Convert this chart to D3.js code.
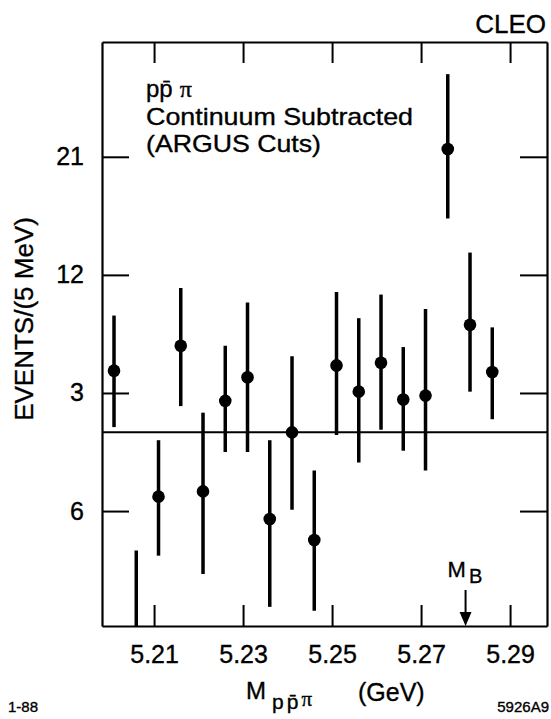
<!DOCTYPE html>
<html>
<head>
<meta charset="utf-8">
<script src="https://cdn.jsdelivr.net/npm/d3@7"></script>
<style>
  html, body { margin: 0; padding: 0; background: #fff; }
  svg text { font-family: "Liberation Sans", Arial, Helvetica, sans-serif; fill: #000;
             stroke: #000; stroke-width: 0.35px; }
</style>
</head>
<body>
<svg id="chart" width="551" height="719"></svg>
<script>
// Bin centres of the p p-bar pi invariant mass (GeV), 5 MeV bins
const massBins = [5.201, 5.206, 5.211, 5.216, 5.221, 5.226, 5.231, 5.236, 5.241,
                  5.246, 5.251, 5.256, 5.261, 5.266, 5.271, 5.276, 5.281, 5.286];
// Continuum-subtracted events per bin
const events   = [4.7, -15.5, -4.9, 6.6, -4.5, 2.4, 4.2, -6.6, 0.0,
                  -8.2, 5.1, 3.1, 5.3, 2.5, 2.8, 21.6, 8.2, 4.6];
// Upper and lower error-bar lengths
const errUp    = [4.2, 6.5, 4.3, 4.4, 6.0, 4.2, 5.7, 6.0, 5.8,
                  5.3, 5.6, 5.6, 5.2, 4.0, 6.6, 5.7, 5.5, 3.4];
const errDown  = [4.3, 6.5, 4.5, 4.6, 6.3, 3.9, 5.7, 6.7, 5.9,
                  5.4, 5.3, 5.4, 5.1, 3.9, 5.7, 5.3, 5.1, 3.6];

const xTicks = [5.21, 5.23, 5.25, 5.27, 5.29];
const yTicks = [-6, 3, 12, 21];
const yTickLabels = ["6", "3", "12", "21"];
const bMass = 5.280;

const svg = d3.select("#chart");
const frame = { left: 102, right: 547, top: 42, bottom: 626 };

const x = d3.scaleLinear().domain([5.1983, 5.2983]).range([frame.left, frame.right]);
const y = d3.scaleLinear().domain([-14.76, 29.75]).range([frame.bottom, frame.top]);

// clip for marks inside the frame
svg.append("defs").append("clipPath").attr("id", "plot")
  .append("rect").attr("x", frame.left).attr("y", frame.top)
  .attr("width", frame.right - frame.left).attr("height", frame.bottom - frame.top);

// axes (inward ticks on all four sides)
const axStroke = g => {
  g.selectAll("path.domain").attr("stroke", "#000").attr("stroke-width", 2.2);
  g.selectAll(".tick line").attr("stroke", "#000").attr("stroke-width", 2);
};
const tickText = g => g.selectAll("text").attr("font-size", 25)
  .style("font-family", "Liberation Sans, Arial, sans-serif");

svg.append("g").attr("transform", `translate(0,${frame.bottom})`)
  .call(d3.axisBottom(x).tickValues(xTicks).tickSizeInner(-21).tickSizeOuter(0)
        .tickPadding(19).tickFormat(d3.format(".2f")))
  .call(axStroke).call(tickText);

svg.append("g").attr("transform", `translate(0,${frame.top})`)
  .call(d3.axisTop(x).tickValues(xTicks).tickSizeInner(-21).tickSizeOuter(0).tickFormat(""))
  .call(axStroke);

svg.append("g").attr("transform", `translate(${frame.left},0)`)
  .call(d3.axisLeft(y).tickValues(yTicks).tickSizeInner(-27).tickSizeOuter(0)
        .tickPadding(18).tickFormat((d, i) => yTickLabels[i]))
  .call(axStroke).call(tickText);

svg.append("g").attr("transform", `translate(${frame.right},0)`)
  .call(d3.axisRight(y).tickValues(yTicks).tickSizeInner(-27).tickSizeOuter(0).tickFormat(""))
  .call(axStroke);

// zero baseline
svg.append("line")
  .attr("x1", frame.left).attr("x2", frame.right)
  .attr("y1", y(0)).attr("y2", y(0))
  .attr("stroke", "#000").attr("stroke-width", 2);

// data: error bars and points
const data = massBins.map((m, i) => ({ m, v: events[i], up: errUp[i], dn: errDown[i] }));
const marks = svg.append("g").attr("clip-path", "url(#plot)");

marks.selectAll("line.err").data(data).join("line")
  .attr("class", "err")
  .attr("x1", d => x(d.m)).attr("x2", d => x(d.m))
  .attr("y1", d => y(d.v + d.up)).attr("y2", d => y(d.v - d.dn))
  .attr("stroke", "#000").attr("stroke-width", 3.5);

marks.selectAll("circle").data(data).join("circle")
  .attr("cx", d => x(d.m)).attr("cy", d => y(d.v)).attr("r", 6.3)
  .attr("fill", "#000");

// M_B marker arrow
const ax = x(bMass);
svg.append("line").attr("x1", ax).attr("x2", ax).attr("y1", 590).attr("y2", 614)
  .attr("stroke", "#000").attr("stroke-width", 2);
svg.append("path")
  .attr("d", `M${ax - 6},${612} L${ax + 6},${612} L${ax},${frame.bottom} Z`)
  .attr("fill", "#000");
const mb = svg.append("text").attr("x", ax - 18).attr("y", 577).attr("font-size", 22);
mb.append("tspan").text("M");
mb.append("tspan").attr("dx", 3).attr("dy", 6).attr("font-size", 20).text("B");

// annotation block
const note = svg.append("g").attr("font-size", 24);
const l1 = note.append("text").attr("x", 146).attr("y", 97);
l1.append("tspan").text("pp\u0304");
l1.append("tspan").attr("dx", 7).style("font-family", "Liberation Serif, serif").text("\u03c0");
note.append("text").attr("x", 146).attr("y", 125)
  .attr("textLength", 267).attr("lengthAdjust", "spacingAndGlyphs")
  .text("Continuum Subtracted");
note.append("text").attr("x", 146).attr("y", 152)
  .attr("textLength", 175).attr("lengthAdjust", "spacingAndGlyphs")
  .text("(ARGUS Cuts)");

// experiment tag
svg.append("text").attr("x", 546).attr("y", 33).attr("text-anchor", "end")
  .attr("font-size", 26).text("CLEO");

// y title
svg.append("text")
  .attr("transform", "translate(33,319) rotate(-90)")
  .attr("text-anchor", "middle").attr("font-size", 26)
  .text("EVENTS/(5 MeV)");

// x title
const xt = svg.append("text").attr("x", 246).attr("y", 699).attr("font-size", 24);
xt.append("tspan").text("M");
xt.append("tspan").attr("dx", 6).attr("dy", 10).attr("font-size", 21).text("p");
xt.append("tspan").attr("dx", 3).attr("font-size", 21).text("p\u0304");
xt.append("tspan").attr("dx", 3).style("font-family", "Liberation Serif, serif")
  .attr("font-size", 21).attr("dy", -3).text("\u03c0");
xt.append("tspan").attr("x", 358).attr("y", 701).attr("font-size", 25).text("(GeV)");

// figure identifiers
svg.append("text").attr("x", 8).attr("y", 712).attr("font-size", 15).text("1-88");
svg.append("text").attr("x", 549).attr("y", 712).attr("text-anchor", "end")
  .attr("font-size", 15).text("5926A9");
</script>
</body>
</html>
